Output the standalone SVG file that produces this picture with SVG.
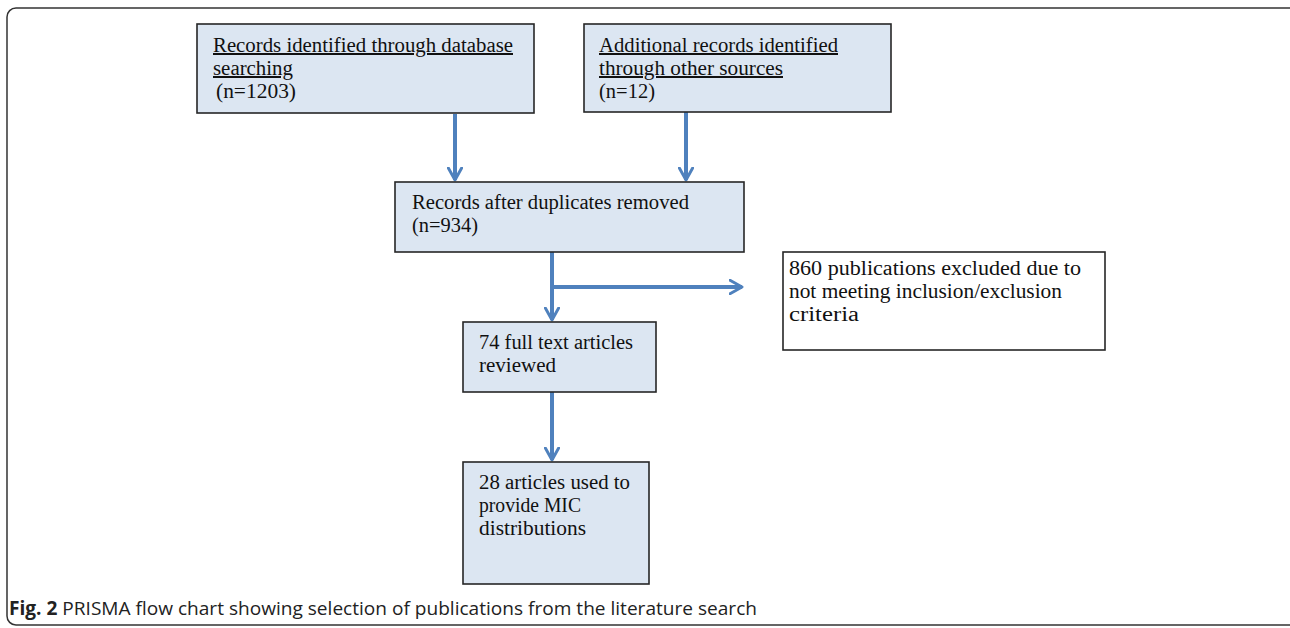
<svg xmlns="http://www.w3.org/2000/svg" width="1290" height="628" viewBox="0 0 1290 628">
<style>
.box{fill:#dce6f2;stroke:#262626;stroke-width:1.6}
.wbox{fill:#ffffff;stroke:#262626;stroke-width:1.6}
.t{font-family:"Liberation Serif","DejaVu Serif",serif;font-size:20px;fill:#111}
.u{text-decoration:underline}
.c{stroke:#4f81bd;stroke-width:4;fill:none}
.cap{font-family:"Open Sans","Liberation Sans",sans-serif;font-size:19px;fill:#222}
</style>
<defs>
<marker id="ah" viewBox="0 0 12 12" refX="10" refY="6" markerWidth="4" markerHeight="4" orient="auto" markerUnits="strokeWidth">
<path d="M1,1 L10,6 L1,11" fill="none" stroke="#4f81bd" stroke-width="2.2" stroke-linecap="round" stroke-linejoin="round"/>
</marker>
</defs>
<rect x="7" y="8" width="1295" height="617" rx="9" fill="none" stroke="#333" stroke-width="1.5"/>
<g id="connectors">
<line class="c" x1="455" y1="114" x2="455" y2="180" marker-end="url(#ah)"/>
<line class="c" x1="686" y1="112" x2="686" y2="180" marker-end="url(#ah)"/>
<line class="c" x1="552" y1="252" x2="552" y2="320" marker-end="url(#ah)"/>
<line class="c" x1="552" y1="287" x2="742" y2="287" marker-end="url(#ah)"/>
<line class="c" x1="552" y1="392" x2="552" y2="460" marker-end="url(#ah)"/>
</g>
<g id="n1">
<rect class="box" x="197" y="24" width="337" height="89"/>
<text class="t u" x="213" y="52" textLength="300" lengthAdjust="spacingAndGlyphs">Records identified through database</text>
<text class="t u" x="213" y="75" textLength="80" lengthAdjust="spacingAndGlyphs">searching</text>
<text class="t" x="216" y="98" textLength="80" lengthAdjust="spacingAndGlyphs">(n=1203)</text>
</g>
<g id="n2">
<rect class="box" x="584" y="24" width="307" height="88"/>
<text class="t u" x="599" y="52" textLength="239" lengthAdjust="spacingAndGlyphs">Additional records identified</text>
<text class="t u" x="599" y="75" textLength="184" lengthAdjust="spacingAndGlyphs">through other sources</text>
<text class="t" x="599" y="98" textLength="56" lengthAdjust="spacingAndGlyphs">(n=12)</text>
</g>
<g id="n3">
<rect class="box" x="395" y="182" width="349" height="70"/>
<text class="t" x="412" y="209" textLength="277" lengthAdjust="spacingAndGlyphs">Records after duplicates removed</text>
<text class="t" x="412" y="232" textLength="66" lengthAdjust="spacingAndGlyphs">(n=934)</text>
</g>
<g id="n4">
<rect class="wbox" x="783" y="252" width="322" height="98"/>
<text class="t" x="789" y="275" textLength="292" lengthAdjust="spacingAndGlyphs">860 publications excluded due to</text>
<text class="t" x="789" y="298" textLength="273" lengthAdjust="spacingAndGlyphs">not meeting inclusion/exclusion</text>
<text class="t" x="789" y="321" textLength="70" lengthAdjust="spacingAndGlyphs">criteria</text>
</g>
<g id="n5">
<rect class="box" x="463" y="322" width="193" height="70"/>
<text class="t" x="479" y="349" textLength="154" lengthAdjust="spacingAndGlyphs">74 full text articles</text>
<text class="t" x="479" y="372" textLength="77" lengthAdjust="spacingAndGlyphs">reviewed</text>
</g>
<g id="n6">
<rect class="box" x="463" y="462" width="186" height="122"/>
<text class="t" x="479" y="489" textLength="151" lengthAdjust="spacingAndGlyphs">28 articles used to</text>
<text class="t" x="479" y="512" textLength="102" lengthAdjust="spacingAndGlyphs">provide MIC</text>
<text class="t" x="479" y="535" textLength="107" lengthAdjust="spacingAndGlyphs">distributions</text>
</g>
<text class="cap" x="9" y="615" textLength="748" lengthAdjust="spacingAndGlyphs"><tspan font-weight="bold">Fig. 2</tspan> PRISMA flow chart showing selection of publications from the literature search</text>
</svg>
